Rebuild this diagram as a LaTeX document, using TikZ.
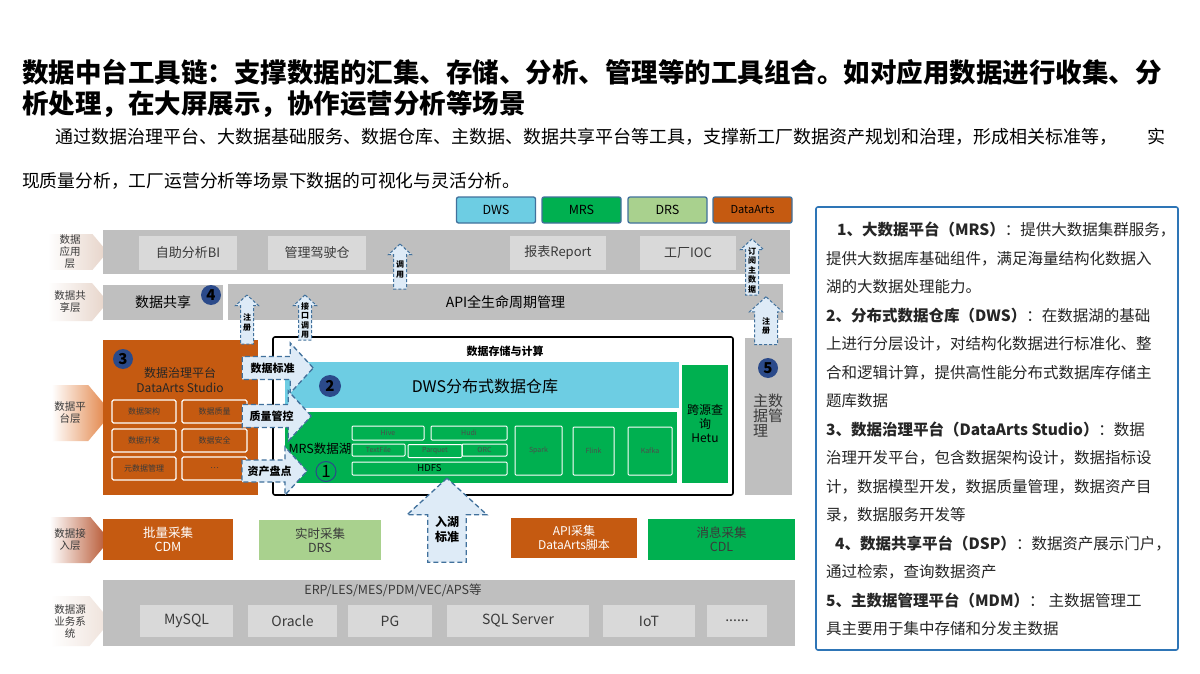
\documentclass[tikz,border=0pt]{standalone}
\usepackage{fontspec}
\setmainfont{Noto Sans CJK SC}
\usepackage{tikz}
\usetikzlibrary{positioning,shapes.arrows,shapes.symbols}

\definecolor{bargray}{HTML}{BFBFBF}
\definecolor{cellgray}{HTML}{D9D9D9}
\definecolor{dwsblue}{HTML}{6DCDE3}
\definecolor{mrsgreen}{HTML}{00B050}
\definecolor{drsgreen}{HTML}{A9D18E}
\definecolor{artsorange}{HTML}{C55A11}
\definecolor{tipfill}{HTML}{DEEBF7}
\definecolor{tipedge}{HTML}{41719C}
\definecolor{numblue}{HTML}{2B4A8A}
\definecolor{noteblue}{HTML}{2E75B6}
\definecolor{tagpink}{HTML}{E6D3C8}
\definecolor{tagorange}{HTML}{E07B39}
\definecolor{tagbrown}{HTML}{B4502A}
\definecolor{inkgray}{HTML}{3A3A3A}

\tikzset{
  bar/.style={fill=bargray, inner sep=0pt},
  cell/.style={fill=cellgray, text=inkgray, inner sep=0pt, font=\fontsize{13}{15}\selectfont},
  legendbox/.style={draw=tipedge, line width=1.3pt, rounded corners=2pt, minimum width=79pt, minimum height=26pt, font=\fontsize{12.5}{14}\selectfont},
  layertag/.style={signal, signal to=east, signal pointer angle=100, left color=white, right color=tagpink, minimum width=60pt, align=center, text=inkgray, inner sep=1pt, font=\fontsize{10.5}{12}\selectfont},
  govcell/.style={draw=white, line width=1.2pt, rounded corners=1.5pt, minimum height=23pt, inner sep=0pt, text=inkgray, font=\fontsize{8}{9}\selectfont},
  lakecell/.style={draw=white, line width=1pt, rounded corners=1pt, inner sep=0pt, text=black!70, font=\fontsize{7}{8}\selectfont},
  numdot/.style={circle, fill=numblue, inner sep=0pt, minimum size=20pt, font=\bfseries\fontsize{15}{15}\selectfont},
  gather/.style={minimum width=126pt, minimum height=41pt, align=center, inner sep=0pt, font=\fontsize{12.5}{14}\selectfont},
  flowtip/.style={single arrow, draw=tipedge, dash pattern=on 5pt off 3pt, line width=1.3pt, fill=tipfill, align=center, inner xsep=2pt, inner ysep=5pt, single arrow head extend=13pt, single arrow tip angle=95, font=\bfseries\fontsize{11}{12}\selectfont},
  uptip/.style={flowtip, shape border rotate=90, inner xsep=2pt, inner ysep=1pt, single arrow head extend=5pt, line width=1pt, dash pattern=on 3pt off 2pt, font=\bfseries\fontsize{8}{9.5}\selectfont}
}

\begin{document}
\begin{tikzpicture}[x=1pt, y=-1pt, every node/.style={font=\fontsize{13}{15}\selectfont}]
  \useasboundingbox[fill=white] (0,0) rectangle (1200,674);

  % headings
  \node[anchor=west, inner sep=0pt, font=\bfseries\fontsize{26.5}{30}\selectfont] (title1) at (22,72) {数据中台工具链：支撑数据的汇集、存储、分析、管理等的工具组合。如对应用数据进行收集、分};
  \node[anchor=west, inner sep=0pt, font=\bfseries\fontsize{26.5}{30}\selectfont] (title2) at (22,104) {析处理，在大屏展示，协作运营分析等场景};
  \node[anchor=west, inner sep=0pt, font=\fontsize{18}{20}\selectfont] (lead1) at (55,137) {通过数据治理平台、大数据基础服务、数据仓库、主数据、数据共享平台等工具，支撑新工厂数据资产规划和治理，形成相关标准等，\hspace{30pt}实};
  \node[anchor=west, inner sep=0pt, font=\fontsize{17.8}{20}\selectfont] (lead2) at (22,181) {现质量分析，工厂运营分析等场景下数据的可视化与灵活分析。};

  % legend
  \node[legendbox, fill=dwsblue] (lgdws) at (496,210) {DWS};
  \node[legendbox, fill=mrsgreen] (lgmrs) at (581.5,210) {MRS};
  \node[legendbox, fill=drsgreen] (lgdrs) at (667.5,210) {DRS};
  \node[legendbox, fill=artsorange, font=\fontsize{11}{13}\selectfont] (lgarts) at (752.5,210) {DataArts};

  % layer tags
  \node[layertag] (apptag) at (70,252) {数据\\应用\\层};
  \node[layertag, minimum height=38pt] (sharetag) at (70,302) {数据共\\享层};
  \node[layertag, right color=tagorange, minimum height=56pt] (platformtag) at (70,413) {数据平\\台层};
  \node[layertag, right color=tagbrown, minimum height=46pt] (accesstag) at (70,540) {数据接\\入层};
  \node[layertag, right color=tagpink!70, minimum height=50pt] (srctag) at (70,621) {数据源\\业务系\\统};

  % application layer
  \node[bar, minimum width=687pt, minimum height=44pt] (appbar) at (446.5,252) {};
  \node[cell, minimum width=98pt, minimum height=34pt] (bi) at (188,253) {自助分析BI};
  \node[cell, minimum width=98pt, minimum height=34pt] (cockpit) at (317,253) {管理驾驶仓};
  \node[cell, minimum width=96pt, minimum height=34pt] (report) at (558,253) {报表Report};
  \node[cell, minimum width=96pt, minimum height=34pt] (ioc) at (688,253) {工厂IOC};

  % sharing layer
  \node[bar, minimum width=120pt, minimum height=35pt, font=\fontsize{14}{16}\selectfont] (sharebox) at (163,302.5) {数据共享};
  \node[numdot] (num4) at (211,295) {4};
  \node[bar, minimum width=555pt, minimum height=36pt, font=\fontsize{14}{16}\selectfont] (apibar) at (505.5,302) {API全生命周期管理};

  % governance platform
  \node[fill=artsorange, minimum width=155pt, minimum height=155pt] (govbox) at (180.5,417.5) {};
  \node[numdot] (num3) at (123,359) {3};
  \node[align=center, text=black!85, font=\fontsize{12}{15}\selectfont] (govtitle) at (180,380) {数据治理平台\\DataArts Studio};
  \node[govcell, minimum width=64pt] (arch) at (144,411.5) {数据架构};
  \node[govcell, minimum width=65pt] (quality) at (214.5,411.5) {数据质量};
  \node[govcell, minimum width=64pt] (devel) at (144,440.5) {数据开发};
  \node[govcell, minimum width=65pt] (safety) at (214.5,440.5) {数据安全};
  \node[govcell, minimum width=64pt] (meta) at (144,468.5) {元数据管理};
  \node[govcell, minimum width=65pt] (more) at (214.5,468.5) {…};

  % storage and compute
  \node[draw=black, line width=1.6pt, rounded corners=2pt, fill=white, minimum width=460pt, minimum height=158pt] (store) at (503,416) {};
  \node[font=\bfseries\fontsize{11}{13}\selectfont] (storetitle) at (505,351) {数据存储与计算};
  \node[fill=dwsblue, minimum width=394pt, minimum height=46pt] (dwsband) at (482,385) {};
  \node[font=\fontsize{16}{18}\selectfont] (dwstext) at (485,386) {DWS分布式数据仓库};
  \node[numdot, minimum size=22pt] (num2) at (330,386) {2};
  \node[fill=mrsgreen, minimum width=392pt, minimum height=71pt] (mrsband) at (481,447.5) {};
  \node[font=\fontsize{12.5}{14}\selectfont] (mrstext) at (320,449) {MRS数据湖};
  \node[circle, draw=numblue, line width=1pt, inner sep=0pt, minimum size=20pt, font=\fontsize{17}{17}\selectfont] (num1) at (326,471.5) {1};
  \node[lakecell, minimum width=72pt, minimum height=14pt] (hive) at (388,433) {Hive};
  \node[lakecell, minimum width=76pt, minimum height=14pt] (hudi) at (469,433) {Hudi};
  \node[lakecell, minimum width=53pt, minimum height=12pt] (textfile) at (378.5,450) {TextFile};
  \node[lakecell, minimum width=54pt, minimum height=13pt] (parquet) at (435,451) {Parquet};
  \node[lakecell, minimum width=45pt, minimum height=12pt] (orc) at (484.5,450) {ORC};
  \node[lakecell, minimum width=155pt, minimum height=13pt, text=black, font=\fontsize{9.5}{10}\selectfont] (hdfs) at (429.5,468.5) {HDFS};
  \node[lakecell, minimum width=47pt, minimum height=49pt] (spark) at (538.5,450.5) {Spark};
  \node[lakecell, minimum width=41pt, minimum height=48pt] (flink) at (593.5,451) {Flink};
  \node[lakecell, minimum width=44pt, minimum height=48pt] (kafka) at (650,451) {Kafka};
  \node[fill=mrsgreen, minimum width=46pt, minimum height=118pt, align=center, font=\fontsize{12}{14}\selectfont] (hetu) at (705,424) {跨源查\\询\\Hetu};

  % master data
  \node[bar, minimum width=47pt, minimum height=157pt] (mdm) at (768.5,416.5) {};
  \node[numdot] (num5) at (768,368) {5};
  \node[align=left, text=inkgray, font=\fontsize{15}{15}\selectfont] (mdmtext) at (768,416) {主数\\据管\\理};

  % flow arrows
  \node[flowtip, minimum height=71pt, minimum width=50pt] (stdtip) at (272.5,368) {数据标准};
  \node[flowtip, minimum height=69pt, minimum width=50pt] (qualtip) at (271.5,416) {质量管控};
  \node[flowtip, minimum height=65pt, minimum width=48pt] (assettip) at (269.5,471) {资产盘点};
  \node[uptip, minimum height=49pt, minimum width=22pt] (regtip) at (247,322.5) {注\\册};
  \node[uptip, minimum height=45pt, minimum width=22pt] (calltip) at (305,320.5) {接\\口\\调\\用};
  \node[uptip, minimum height=45pt, minimum width=22pt] (usetip) at (400,269.5) {调\\用};
  \node[uptip, minimum height=56pt, minimum width=22pt] (subtip) at (752,270) {订\\阅\\主\\数\\据};
  \node[uptip, minimum height=48pt, minimum width=32pt, inner xsep=7pt] (reg2tip) at (766,326) {注\\册};
  \node[uptip, minimum height=84pt, minimum width=80pt, inner xsep=5pt, inner ysep=4pt, single arrow head extend=19pt, line width=1.3pt, dash pattern=on 5pt off 3pt, font=\bfseries\fontsize{12}{15}\selectfont] (laketip) at (447,529) {入湖\\标准};

  % access layer
  \node[gather, fill=artsorange, text=white, minimum width=130pt] (cdm) at (168,539) {批量采集\\CDM};
  \node[gather, fill=drsgreen, text=inkgray, minimum width=122pt, minimum height=40pt] (drs) at (320,540) {实时采集\\DRS};
  \node[gather, fill=artsorange, text=white, minimum height=40pt, font=\fontsize{12}{14}\selectfont] (apigather) at (574,538) {API采集\\DataArts脚本};
  \node[gather, fill=mrsgreen, text=inkgray, minimum width=147pt] (cdl) at (721.5,539) {消息采集\\CDL};

  % source systems
  \node[bar, minimum width=692pt, minimum height=66pt] (srcbar) at (449,613) {};
  \node[text=inkgray, font=\fontsize{12.5}{14}\selectfont] (erp) at (393,590) {ERP/LES/MES/PDM/VEC/APS等};
  \node[cell, minimum width=93pt, minimum height=32pt, font=\fontsize{14}{16}\selectfont] (mysql) at (186.5,621) {MySQL};
  \node[cell, minimum width=89pt, minimum height=32pt, font=\fontsize{14}{16}\selectfont] (oracle) at (292.5,621) {Oracle};
  \node[cell, minimum width=84pt, minimum height=32pt, font=\fontsize{14}{16}\selectfont] (pg) at (390,621) {PG};
  \node[cell, minimum width=142pt, minimum height=32pt, font=\fontsize{14}{16}\selectfont] (sqlserver) at (518,621) {SQL Server};
  \node[cell, minimum width=92pt, minimum height=32pt, font=\fontsize{14}{16}\selectfont] (iot) at (649,621) {IoT};
  \node[cell, minimum width=60pt, minimum height=32pt, font=\fontsize{14}{16}\selectfont] (etc) at (737,621) {......};

  % notes
  \node[draw=noteblue, line width=1.6pt, rounded corners=2pt, minimum width=362pt, minimum height=443pt] (notebox) at (997,428.5) {};
  \node[anchor=north west, align=left, inner sep=0pt, text=black!85, font=\fontsize{15.5}{28.5}\selectfont] (notes) at (826,222) {%
    \hspace*{11pt}\textbf{1、大数据平台（MRS）}：提供大数据集群服务，\\
    提供大数据库基础组件，满足海量结构化数据入\\
    湖的大数据处理能力。\\
    \textbf{2、分布式数据仓库（DWS）}：在数据湖的基础\\
    上进行分层设计，对结构化数据进行标准化、整\\
    合和逻辑计算，提供高性能分布式数据库存储主\\
    题库数据\\
    \textbf{3、数据治理平台（DataArts Studio）}：数据\\
    治理开发平台，包含数据架构设计，数据指标设\\
    计，数据模型开发，数据质量管理，数据资产目\\
    录，数据服务开发等\\
    \hspace*{9pt}\textbf{4、数据共享平台（DSP）}：数据资产展示门户，\\
    通过检索，查询数据资产\\
    \textbf{5、主数据管理平台（MDM）}：\hspace{4pt}主数据管理工\\
    具主要用于集中存储和分发主数据};
\end{tikzpicture}
\end{document}
